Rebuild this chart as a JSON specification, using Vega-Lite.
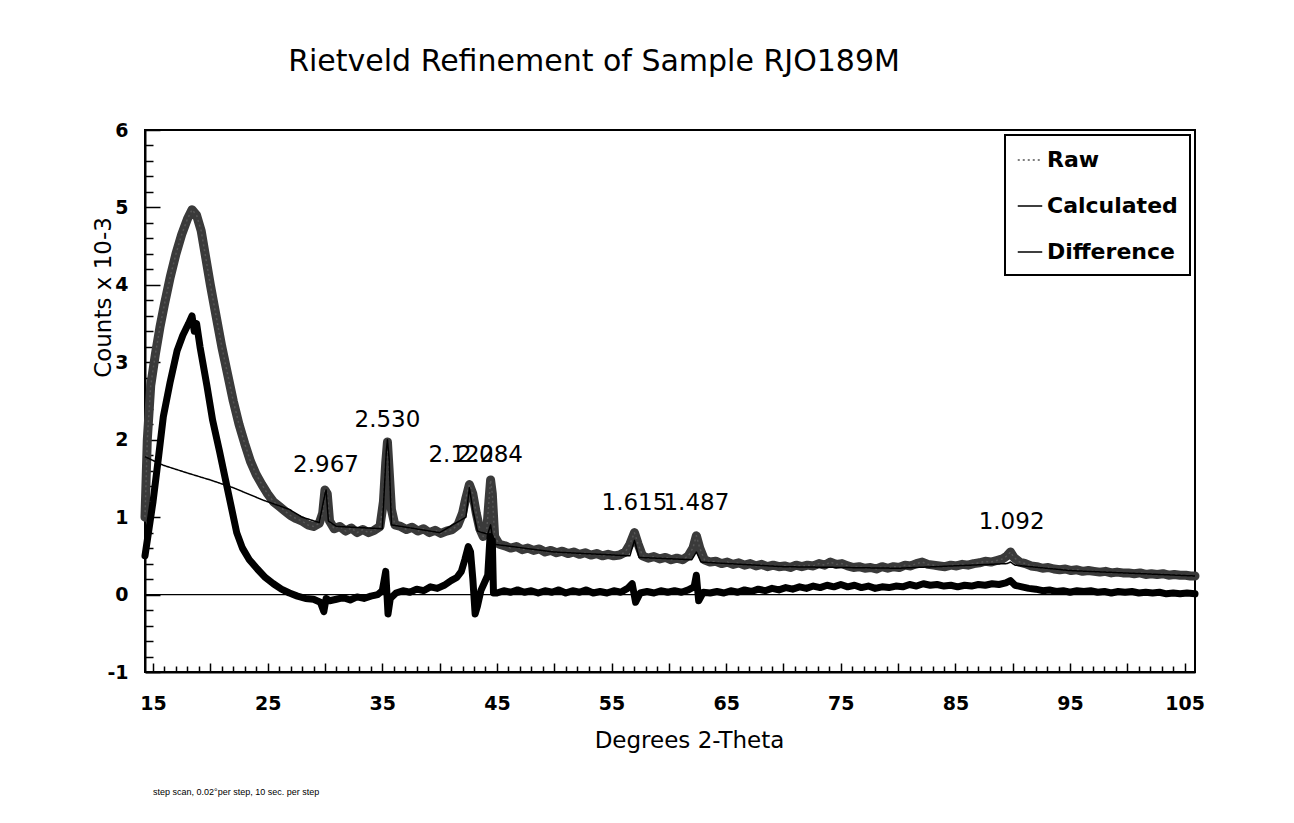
{
  "$schema": "https://vega.github.io/schema/vega-lite/v6.json",
  "width": 1050,
  "height": 542,
  "autosize": {"type": "none"},
  "padding": {"left": 145, "top": 130, "right": 99, "bottom": 151},
  "background": "white",
  "title": {"text": "Rietveld Refinement of Sample RJO189M", "font": "DejaVu Sans", "fontSize": 30, "fontWeight": "normal", "color": "black", "anchor": "middle", "dx": -76, "offset": 44, "frame": "group"},
  "datasets": {
    "pts": [
      {"s":"Raw","x":14.3,"y":1.0},{"s":"Raw","x":14.5,"y":2.0},{"s":"Raw","x":14.8,"y":2.7},{"s":"Raw","x":15.2,"y":3.1},{"s":"Raw","x":15.6,"y":3.45},{"s":"Raw","x":16.0,"y":3.75},{"s":"Raw","x":16.5,"y":4.1},{"s":"Raw","x":17.0,"y":4.4},{"s":"Raw","x":17.5,"y":4.65},{"s":"Raw","x":18.0,"y":4.85},{"s":"Raw","x":18.4,"y":4.97},{"s":"Raw","x":18.8,"y":4.9},{"s":"Raw","x":19.2,"y":4.7},{"s":"Raw","x":19.6,"y":4.35},{"s":"Raw","x":20.0,"y":4.0},{"s":"Raw","x":20.5,"y":3.6},{"s":"Raw","x":21.0,"y":3.2},{"s":"Raw","x":21.5,"y":2.85},{"s":"Raw","x":22.0,"y":2.5},{"s":"Raw","x":22.5,"y":2.2},{"s":"Raw","x":23.0,"y":1.95},{"s":"Raw","x":23.5,"y":1.72},{"s":"Raw","x":24.0,"y":1.55},{"s":"Raw","x":24.5,"y":1.42},{"s":"Raw","x":25.0,"y":1.3},{"s":"Raw","x":25.5,"y":1.2},{"s":"Raw","x":26.0,"y":1.14},{"s":"Raw","x":26.5,"y":1.08},{"s":"Raw","x":27.0,"y":1.02},{"s":"Raw","x":27.5,"y":0.98},{"s":"Raw","x":28.0,"y":0.95},{"s":"Raw","x":28.5,"y":0.9},{"s":"Raw","x":29.0,"y":0.88},{"s":"Raw","x":29.5,"y":0.92},{"s":"Raw","x":29.8,"y":1.05},{"s":"Raw","x":30.0,"y":1.35},{"s":"Raw","x":30.2,"y":1.3},{"s":"Raw","x":30.4,"y":0.95},{"s":"Raw","x":30.8,"y":0.85},{"s":"Raw","x":31.3,"y":0.88},{"s":"Raw","x":31.8,"y":0.82},{"s":"Raw","x":32.3,"y":0.86},{"s":"Raw","x":32.8,"y":0.8},{"s":"Raw","x":33.3,"y":0.84},{"s":"Raw","x":33.8,"y":0.8},{"s":"Raw","x":34.3,"y":0.83},{"s":"Raw","x":34.8,"y":0.88},{"s":"Raw","x":35.1,"y":1.2},{"s":"Raw","x":35.3,"y":1.7},{"s":"Raw","x":35.45,"y":1.97},{"s":"Raw","x":35.6,"y":1.6},{"s":"Raw","x":35.8,"y":1.1},{"s":"Raw","x":36.1,"y":0.9},{"s":"Raw","x":36.6,"y":0.88},{"s":"Raw","x":37.1,"y":0.84},{"s":"Raw","x":37.6,"y":0.87},{"s":"Raw","x":38.1,"y":0.82},{"s":"Raw","x":38.6,"y":0.85},{"s":"Raw","x":39.1,"y":0.8},{"s":"Raw","x":39.6,"y":0.83},{"s":"Raw","x":40.1,"y":0.79},{"s":"Raw","x":40.6,"y":0.82},{"s":"Raw","x":41.1,"y":0.84},{"s":"Raw","x":41.6,"y":0.9},{"s":"Raw","x":42.0,"y":1.05},{"s":"Raw","x":42.3,"y":1.25},{"s":"Raw","x":42.6,"y":1.42},{"s":"Raw","x":42.9,"y":1.3},{"s":"Raw","x":43.2,"y":1.05},{"s":"Raw","x":43.5,"y":0.85},{"s":"Raw","x":43.8,"y":0.75},{"s":"Raw","x":44.1,"y":0.8},{"s":"Raw","x":44.3,"y":1.2},{"s":"Raw","x":44.45,"y":1.48},{"s":"Raw","x":44.6,"y":1.3},{"s":"Raw","x":44.8,"y":0.75},{"s":"Raw","x":45.2,"y":0.65},{"s":"Raw","x":45.7,"y":0.63},{"s":"Raw","x":46.2,"y":0.6},{"s":"Raw","x":46.7,"y":0.62},{"s":"Raw","x":47.2,"y":0.58},{"s":"Raw","x":47.7,"y":0.6},{"s":"Raw","x":48.2,"y":0.57},{"s":"Raw","x":48.7,"y":0.59},{"s":"Raw","x":49.2,"y":0.55},{"s":"Raw","x":49.7,"y":0.57},{"s":"Raw","x":50.2,"y":0.54},{"s":"Raw","x":50.7,"y":0.56},{"s":"Raw","x":51.2,"y":0.53},{"s":"Raw","x":51.7,"y":0.55},{"s":"Raw","x":52.2,"y":0.52},{"s":"Raw","x":52.7,"y":0.54},{"s":"Raw","x":53.2,"y":0.51},{"s":"Raw","x":53.7,"y":0.53},{"s":"Raw","x":54.2,"y":0.5},{"s":"Raw","x":54.7,"y":0.52},{"s":"Raw","x":55.2,"y":0.5},{"s":"Raw","x":55.7,"y":0.51},{"s":"Raw","x":56.2,"y":0.55},{"s":"Raw","x":56.6,"y":0.65},{"s":"Raw","x":57.0,"y":0.8},{"s":"Raw","x":57.3,"y":0.66},{"s":"Raw","x":57.7,"y":0.5},{"s":"Raw","x":58.2,"y":0.47},{"s":"Raw","x":58.7,"y":0.49},{"s":"Raw","x":59.2,"y":0.46},{"s":"Raw","x":59.7,"y":0.48},{"s":"Raw","x":60.2,"y":0.45},{"s":"Raw","x":60.7,"y":0.47},{"s":"Raw","x":61.2,"y":0.45},{"s":"Raw","x":61.7,"y":0.5},{"s":"Raw","x":62.1,"y":0.6},{"s":"Raw","x":62.4,"y":0.76},{"s":"Raw","x":62.7,"y":0.6},{"s":"Raw","x":63.1,"y":0.45},{"s":"Raw","x":63.6,"y":0.42},{"s":"Raw","x":64.1,"y":0.43},{"s":"Raw","x":64.6,"y":0.4},{"s":"Raw","x":65.1,"y":0.42},{"s":"Raw","x":65.6,"y":0.39},{"s":"Raw","x":66.1,"y":0.41},{"s":"Raw","x":66.6,"y":0.38},{"s":"Raw","x":67.1,"y":0.4},{"s":"Raw","x":67.6,"y":0.37},{"s":"Raw","x":68.1,"y":0.39},{"s":"Raw","x":68.6,"y":0.36},{"s":"Raw","x":69.1,"y":0.38},{"s":"Raw","x":69.6,"y":0.36},{"s":"Raw","x":70.1,"y":0.37},{"s":"Raw","x":70.6,"y":0.35},{"s":"Raw","x":71.1,"y":0.38},{"s":"Raw","x":71.6,"y":0.36},{"s":"Raw","x":72.1,"y":0.38},{"s":"Raw","x":72.6,"y":0.37},{"s":"Raw","x":73.1,"y":0.4},{"s":"Raw","x":73.6,"y":0.38},{"s":"Raw","x":74.1,"y":0.42},{"s":"Raw","x":74.6,"y":0.39},{"s":"Raw","x":75.1,"y":0.4},{"s":"Raw","x":75.6,"y":0.37},{"s":"Raw","x":76.1,"y":0.35},{"s":"Raw","x":76.6,"y":0.36},{"s":"Raw","x":77.1,"y":0.34},{"s":"Raw","x":77.6,"y":0.35},{"s":"Raw","x":78.1,"y":0.33},{"s":"Raw","x":78.6,"y":0.36},{"s":"Raw","x":79.1,"y":0.34},{"s":"Raw","x":79.6,"y":0.36},{"s":"Raw","x":80.1,"y":0.35},{"s":"Raw","x":80.6,"y":0.38},{"s":"Raw","x":81.1,"y":0.37},{"s":"Raw","x":81.6,"y":0.4},{"s":"Raw","x":82.1,"y":0.42},{"s":"Raw","x":82.6,"y":0.39},{"s":"Raw","x":83.1,"y":0.38},{"s":"Raw","x":83.6,"y":0.37},{"s":"Raw","x":84.1,"y":0.36},{"s":"Raw","x":84.6,"y":0.38},{"s":"Raw","x":85.1,"y":0.37},{"s":"Raw","x":85.6,"y":0.39},{"s":"Raw","x":86.1,"y":0.38},{"s":"Raw","x":86.6,"y":0.4},{"s":"Raw","x":87.1,"y":0.41},{"s":"Raw","x":87.6,"y":0.43},{"s":"Raw","x":88.1,"y":0.42},{"s":"Raw","x":88.6,"y":0.44},{"s":"Raw","x":89.1,"y":0.46},{"s":"Raw","x":89.5,"y":0.5},{"s":"Raw","x":89.8,"y":0.55},{"s":"Raw","x":90.1,"y":0.48},{"s":"Raw","x":90.6,"y":0.42},{"s":"Raw","x":91.1,"y":0.4},{"s":"Raw","x":91.6,"y":0.37},{"s":"Raw","x":92.1,"y":0.36},{"s":"Raw","x":92.6,"y":0.34},{"s":"Raw","x":93.1,"y":0.35},{"s":"Raw","x":93.6,"y":0.33},{"s":"Raw","x":94.1,"y":0.32},{"s":"Raw","x":94.6,"y":0.33},{"s":"Raw","x":95.1,"y":0.31},{"s":"Raw","x":95.6,"y":0.32},{"s":"Raw","x":96.1,"y":0.3},{"s":"Raw","x":96.6,"y":0.31},{"s":"Raw","x":97.1,"y":0.3},{"s":"Raw","x":97.6,"y":0.29},{"s":"Raw","x":98.1,"y":0.3},{"s":"Raw","x":98.6,"y":0.28},{"s":"Raw","x":99.1,"y":0.29},{"s":"Raw","x":99.6,"y":0.28},{"s":"Raw","x":100.1,"y":0.28},{"s":"Raw","x":100.6,"y":0.27},{"s":"Raw","x":101.1,"y":0.28},{"s":"Raw","x":101.6,"y":0.26},{"s":"Raw","x":102.1,"y":0.27},{"s":"Raw","x":102.6,"y":0.26},{"s":"Raw","x":103.1,"y":0.27},{"s":"Raw","x":103.6,"y":0.25},{"s":"Raw","x":104.1,"y":0.26},{"s":"Raw","x":104.6,"y":0.25},{"s":"Raw","x":105.1,"y":0.25},{"s":"Raw","x":105.5,"y":0.24},{"s":"Raw","x":105.9,"y":0.24},
      {"s":"Calculated","x":14.3,"y":1.78},{"s":"Calculated","x":15.9,"y":1.67},{"s":"Calculated","x":18,"y":1.57},{"s":"Calculated","x":20,"y":1.48},{"s":"Calculated","x":22,"y":1.38},{"s":"Calculated","x":24.6,"y":1.22},{"s":"Calculated","x":26.9,"y":1.1},{"s":"Calculated","x":28,"y":1.0},{"s":"Calculated","x":29.5,"y":0.93},{"s":"Calculated","x":30.0,"y":1.3},{"s":"Calculated","x":30.1,"y":1.35},{"s":"Calculated","x":30.3,"y":0.95},{"s":"Calculated","x":31,"y":0.88},{"s":"Calculated","x":35,"y":0.85},{"s":"Calculated","x":35.35,"y":1.85},{"s":"Calculated","x":35.45,"y":2.0},{"s":"Calculated","x":35.6,"y":1.75},{"s":"Calculated","x":35.8,"y":0.9},{"s":"Calculated","x":40,"y":0.8},{"s":"Calculated","x":42.3,"y":1.0},{"s":"Calculated","x":42.6,"y":1.38},{"s":"Calculated","x":42.9,"y":1.1},{"s":"Calculated","x":43.3,"y":0.82},{"s":"Calculated","x":44.2,"y":0.78},{"s":"Calculated","x":44.45,"y":0.9},{"s":"Calculated","x":44.7,"y":0.65},{"s":"Calculated","x":50,"y":0.55},{"s":"Calculated","x":56.6,"y":0.5},{"s":"Calculated","x":57.0,"y":0.7},{"s":"Calculated","x":57.4,"y":0.48},{"s":"Calculated","x":62.0,"y":0.45},{"s":"Calculated","x":62.4,"y":0.55},{"s":"Calculated","x":62.8,"y":0.42},{"s":"Calculated","x":70,"y":0.36},{"s":"Calculated","x":80,"y":0.34},{"s":"Calculated","x":89.5,"y":0.4},{"s":"Calculated","x":89.8,"y":0.42},{"s":"Calculated","x":90.2,"y":0.38},{"s":"Calculated","x":95,"y":0.31},{"s":"Calculated","x":105.9,"y":0.24},
      {"s":"Difference","x":14.3,"y":0.5},{"s":"Difference","x":14.6,"y":0.8},{"s":"Difference","x":15.0,"y":1.2},{"s":"Difference","x":15.5,"y":1.8},{"s":"Difference","x":15.9,"y":2.3},{"s":"Difference","x":16.5,"y":2.75},{"s":"Difference","x":17.1,"y":3.15},{"s":"Difference","x":17.6,"y":3.35},{"s":"Difference","x":18.1,"y":3.5},{"s":"Difference","x":18.4,"y":3.6},{"s":"Difference","x":18.6,"y":3.4},{"s":"Difference","x":18.8,"y":3.5},{"s":"Difference","x":19.1,"y":3.2},{"s":"Difference","x":19.7,"y":2.7},{"s":"Difference","x":20.2,"y":2.25},{"s":"Difference","x":20.8,"y":1.85},{"s":"Difference","x":21.3,"y":1.5},{"s":"Difference","x":21.8,"y":1.15},{"s":"Difference","x":22.3,"y":0.8},{"s":"Difference","x":22.8,"y":0.6},{"s":"Difference","x":23.4,"y":0.45},{"s":"Difference","x":24.1,"y":0.33},{"s":"Difference","x":24.8,"y":0.22},{"s":"Difference","x":25.5,"y":0.14},{"s":"Difference","x":26.2,"y":0.07},{"s":"Difference","x":26.9,"y":0.02},{"s":"Difference","x":27.6,"y":-0.02},{"s":"Difference","x":28.3,"y":-0.05},{"s":"Difference","x":29.0,"y":-0.06},{"s":"Difference","x":29.6,"y":-0.1},{"s":"Difference","x":29.9,"y":-0.22},{"s":"Difference","x":30.1,"y":-0.05},{"s":"Difference","x":30.4,"y":-0.08},{"s":"Difference","x":31.0,"y":-0.06},{"s":"Difference","x":31.6,"y":-0.04},{"s":"Difference","x":32.2,"y":-0.07},{"s":"Difference","x":32.8,"y":-0.03},{"s":"Difference","x":33.4,"y":-0.05},{"s":"Difference","x":34.0,"y":-0.02},{"s":"Difference","x":34.6,"y":0.0},{"s":"Difference","x":35.0,"y":0.05},{"s":"Difference","x":35.3,"y":0.3},{"s":"Difference","x":35.5,"y":-0.25},{"s":"Difference","x":35.7,"y":-0.05},{"s":"Difference","x":36.2,"y":0.02},{"s":"Difference","x":36.8,"y":0.05},{"s":"Difference","x":37.4,"y":0.03},{"s":"Difference","x":38.0,"y":0.07},{"s":"Difference","x":38.6,"y":0.05},{"s":"Difference","x":39.2,"y":0.1},{"s":"Difference","x":39.8,"y":0.08},{"s":"Difference","x":40.4,"y":0.12},{"s":"Difference","x":41.0,"y":0.18},{"s":"Difference","x":41.5,"y":0.22},{"s":"Difference","x":41.9,"y":0.3},{"s":"Difference","x":42.2,"y":0.45},{"s":"Difference","x":42.5,"y":0.62},{"s":"Difference","x":42.7,"y":0.55},{"s":"Difference","x":42.9,"y":0.2},{"s":"Difference","x":43.1,"y":-0.25},{"s":"Difference","x":43.3,"y":-0.15},{"s":"Difference","x":43.6,"y":0.05},{"s":"Difference","x":43.9,"y":0.15},{"s":"Difference","x":44.2,"y":0.25},{"s":"Difference","x":44.4,"y":0.75},{"s":"Difference","x":44.6,"y":0.7},{"s":"Difference","x":44.7,"y":0.02},{"s":"Difference","x":45.0,"y":0.02},{"s":"Difference","x":45.6,"y":0.05},{"s":"Difference","x":46.2,"y":0.03},{"s":"Difference","x":46.8,"y":0.06},{"s":"Difference","x":47.4,"y":0.03},{"s":"Difference","x":48.0,"y":0.05},{"s":"Difference","x":48.6,"y":0.02},{"s":"Difference","x":49.2,"y":0.05},{"s":"Difference","x":49.8,"y":0.03},{"s":"Difference","x":50.4,"y":0.06},{"s":"Difference","x":51.0,"y":0.02},{"s":"Difference","x":51.6,"y":0.05},{"s":"Difference","x":52.2,"y":0.03},{"s":"Difference","x":52.8,"y":0.06},{"s":"Difference","x":53.4,"y":0.02},{"s":"Difference","x":54.0,"y":0.04},{"s":"Difference","x":54.6,"y":0.02},{"s":"Difference","x":55.2,"y":0.05},{"s":"Difference","x":55.8,"y":0.03},{"s":"Difference","x":56.4,"y":0.08},{"s":"Difference","x":56.8,"y":0.14},{"s":"Difference","x":57.1,"y":-0.1},{"s":"Difference","x":57.5,"y":0.02},{"s":"Difference","x":58.1,"y":0.04},{"s":"Difference","x":58.7,"y":0.02},{"s":"Difference","x":59.3,"y":0.05},{"s":"Difference","x":59.9,"y":0.03},{"s":"Difference","x":60.5,"y":0.05},{"s":"Difference","x":61.1,"y":0.03},{"s":"Difference","x":61.7,"y":0.06},{"s":"Difference","x":62.2,"y":0.1},{"s":"Difference","x":62.4,"y":0.25},{"s":"Difference","x":62.6,"y":-0.08},{"s":"Difference","x":63.0,"y":0.03},{"s":"Difference","x":63.6,"y":0.02},{"s":"Difference","x":64.2,"y":0.04},{"s":"Difference","x":64.8,"y":0.02},{"s":"Difference","x":65.4,"y":0.05},{"s":"Difference","x":66.0,"y":0.03},{"s":"Difference","x":66.6,"y":0.06},{"s":"Difference","x":67.2,"y":0.04},{"s":"Difference","x":67.8,"y":0.07},{"s":"Difference","x":68.4,"y":0.05},{"s":"Difference","x":69.0,"y":0.08},{"s":"Difference","x":69.6,"y":0.06},{"s":"Difference","x":70.2,"y":0.09},{"s":"Difference","x":70.8,"y":0.07},{"s":"Difference","x":71.4,"y":0.1},{"s":"Difference","x":72.0,"y":0.08},{"s":"Difference","x":72.6,"y":0.11},{"s":"Difference","x":73.2,"y":0.09},{"s":"Difference","x":73.8,"y":0.12},{"s":"Difference","x":74.4,"y":0.1},{"s":"Difference","x":75.0,"y":0.13},{"s":"Difference","x":75.6,"y":0.1},{"s":"Difference","x":76.2,"y":0.12},{"s":"Difference","x":76.8,"y":0.09},{"s":"Difference","x":77.4,"y":0.11},{"s":"Difference","x":78.0,"y":0.08},{"s":"Difference","x":78.6,"y":0.1},{"s":"Difference","x":79.2,"y":0.09},{"s":"Difference","x":79.8,"y":0.11},{"s":"Difference","x":80.4,"y":0.1},{"s":"Difference","x":81.0,"y":0.13},{"s":"Difference","x":81.6,"y":0.11},{"s":"Difference","x":82.2,"y":0.14},{"s":"Difference","x":82.8,"y":0.12},{"s":"Difference","x":83.4,"y":0.13},{"s":"Difference","x":84.0,"y":0.11},{"s":"Difference","x":84.6,"y":0.12},{"s":"Difference","x":85.2,"y":0.1},{"s":"Difference","x":85.8,"y":0.12},{"s":"Difference","x":86.4,"y":0.11},{"s":"Difference","x":87.0,"y":0.13},{"s":"Difference","x":87.6,"y":0.12},{"s":"Difference","x":88.2,"y":0.14},{"s":"Difference","x":88.8,"y":0.13},{"s":"Difference","x":89.4,"y":0.15},{"s":"Difference","x":89.8,"y":0.18},{"s":"Difference","x":90.2,"y":0.12},{"s":"Difference","x":90.8,"y":0.1},{"s":"Difference","x":91.4,"y":0.08},{"s":"Difference","x":92.0,"y":0.07},{"s":"Difference","x":92.6,"y":0.05},{"s":"Difference","x":93.2,"y":0.06},{"s":"Difference","x":93.8,"y":0.04},{"s":"Difference","x":94.4,"y":0.05},{"s":"Difference","x":95.0,"y":0.03},{"s":"Difference","x":95.6,"y":0.05},{"s":"Difference","x":96.2,"y":0.04},{"s":"Difference","x":96.8,"y":0.05},{"s":"Difference","x":97.4,"y":0.03},{"s":"Difference","x":98.0,"y":0.04},{"s":"Difference","x":98.6,"y":0.02},{"s":"Difference","x":99.2,"y":0.04},{"s":"Difference","x":99.8,"y":0.03},{"s":"Difference","x":100.4,"y":0.04},{"s":"Difference","x":101.0,"y":0.02},{"s":"Difference","x":101.6,"y":0.03},{"s":"Difference","x":102.2,"y":0.02},{"s":"Difference","x":102.8,"y":0.03},{"s":"Difference","x":103.4,"y":0.01},{"s":"Difference","x":104.0,"y":0.02},{"s":"Difference","x":104.6,"y":0.01},{"s":"Difference","x":105.2,"y":0.02},{"s":"Difference","x":105.9,"y":0.01}
    ],
    "peaks": [
      {"t":"2.967","x":30.09,"y":1.67},
      {"t":"2.530","x":35.45,"y":2.25},
      {"t":"2.122","x":41.9,"y":1.8},
      {"t":"2.084","x":44.4,"y":1.8},
      {"t":"1.615","x":57.0,"y":1.18},
      {"t":"1.487","x":62.4,"y":1.18},
      {"t":"1.092","x":89.9,"y":0.94}
    ],
    "note": [
      {"t":"step scan, 0.02°per step, 10 sec. per step","x":15,"y":-2.55}
    ],
    "zero": [{"x":14.3,"y":0},{"x":105.9,"y":0}]
  },
  "encoding": {
    "x": {"field": "x", "type": "quantitative", "scale": {"domain": [14.3, 105.9], "nice": false, "zero": false},
      "axis": {
        "values": [15,16,17,18,19,20,21,22,23,24,25,26,27,28,29,30,31,32,33,34,35,36,37,38,39,40,41,42,43,44,45,46,47,48,49,50,51,52,53,54,55,56,57,58,59,60,61,62,63,64,65,66,67,68,69,70,71,72,73,74,75,76,77,78,79,80,81,82,83,84,85,86,87,88,89,90,91,92,93,94,95,96,97,98,99,100,101,102,103,104,105],
        "labelExpr": "(datum.value - 15) % 10 === 0 ? '' + datum.value : ''",
        "tickSize": {"condition": {"test": "(datum.value - 15) % 5 === 0", "value": -9}, "value": -6},
        "labelPadding": 31,
        "labelOverlap": false,
        "labelFlush": false,
        "title": "Degrees 2-Theta",
        "titleX": 544,
        "titleY": 68,
        "titleBaseline": "middle",
        "titleAlign": "center"
      }
    },
    "y": {"field": "y", "type": "quantitative", "scale": {"domain": [-1, 6], "nice": false, "zero": false},
      "axis": {
        "values": [-1,-0.8,-0.6,-0.4,-0.2,0,0.2,0.4,0.6,0.8,1,1.2,1.4,1.6,1.8,2,2.2,2.4,2.6,2.8,3,3.2,3.4,3.6,3.8,4,4.2,4.4,4.6,4.8,5,5.2,5.4,5.6,5.8,6],
        "labelExpr": "datum.value % 1 === 0 ? '' + datum.value : ''",
        "tickSize": {"condition": {"test": "datum.value % 1 === 0", "value": -15}, "value": -8},
        "labelPadding": 32,
        "labelOverlap": false,
        "labelFlush": false,
        "title": "Counts x 10-3",
        "titleX": -42,
        "titleY": 167,
        "titleAngle": -90,
        "titleBaseline": "middle",
        "titleAlign": "center"
      }
    }
  },
  "layer": [
    {
      "data": {"name": "zero"},
      "mark": {"type": "line", "color": "black", "strokeWidth": 1.2}
    },
    {
      "data": {"name": "pts"},
      "transform": [{"filter": "datum.s === 'Raw'"}],
      "mark": {"type": "line", "color": "#3a3a3a", "strokeWidth": 9, "strokeJoin": "round", "strokeCap": "round"}
    },
    {
      "data": {"name": "pts"},
      "transform": [{"filter": "datum.s === 'Difference'"}],
      "mark": {"type": "line", "color": "black", "strokeWidth": 7, "strokeJoin": "round", "strokeCap": "round"}
    },
    {
      "data": {"name": "pts"},
      "mark": {"type": "line", "strokeJoin": "round"},
      "encoding": {
        "color": {"field": "s", "type": "nominal", "title": null, "scale": {"domain": ["Raw", "Calculated", "Difference"], "range": ["#555555", "#000000", "#000000"]}},
        "strokeDash": {"field": "s", "type": "nominal", "title": null, "scale": {"domain": ["Raw", "Calculated", "Difference"], "range": [[2, 3], [1, 0], [1, 0]]}},
        "strokeWidth": {"field": "s", "type": "nominal", "title": null, "scale": {"domain": ["Raw", "Calculated", "Difference"], "range": [1.5, 1.5, 3.5]}}
      }
    },
    {
      "data": {"name": "peaks"},
      "mark": {"type": "text", "font": "DejaVu Sans", "fontSize": 23, "color": "black", "align": "center", "baseline": "middle"},
      "encoding": {"text": {"field": "t"}}
    },
    {
      "data": {"name": "note"},
      "mark": {"type": "text", "font": "Liberation Sans", "fontSize": 9, "color": "black", "align": "left", "baseline": "middle"},
      "encoding": {"text": {"field": "t"}}
    }
  ],
  "config": {
    "view": {"stroke": "black", "strokeWidth": 2},
    "font": "DejaVu Sans",
    "axis": {
      "grid": false,
      "domainColor": "black",
      "domainWidth": 2,
      "tickColor": "black",
      "tickWidth": 1.5,
      "labelFont": "DejaVu Sans",
      "labelFontSize": 19,
      "labelFontWeight": "bold",
      "labelColor": "black",
      "titleFont": "DejaVu Sans",
      "titleFontSize": 23,
      "titleFontWeight": "normal",
      "titleColor": "black"
    },
    "legend": {
      "orient": "top-right",
      "offset": 5,
      "strokeColor": "black",
      "strokeWidth": 2,
      "fillColor": "white",
      "padding": 12,
      "rowPadding": 22,
      "labelFont": "DejaVu Sans",
      "labelFontWeight": "bold",
      "labelFontSize": 22,
      "labelColor": "black",
      "symbolType": "stroke",
      "symbolSize": 600,
      "symbolStrokeWidth": 2,
      "labelOffset": 4
    }
  }
}
